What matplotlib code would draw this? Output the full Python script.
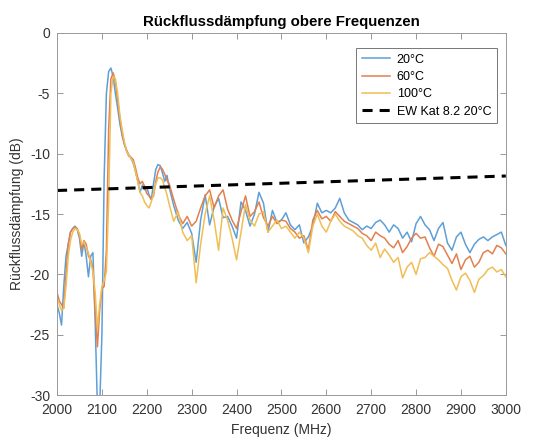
import matplotlib
matplotlib.use("Agg")
import matplotlib.pyplot as plt

plt.rcParams['font.family'] = ['Liberation Sans', 'DejaVu Sans']
plt.rcParams['axes.unicode_minus'] = False

freq = [2000, 2005, 2010, 2015, 2020, 2025, 2030, 2035, 2040, 2045,
        2050, 2055, 2060, 2065, 2070, 2075, 2080, 2085, 2090, 2095,
        2100, 2105, 2110, 2115, 2120, 2125, 2130, 2135, 2140, 2145,
        2150, 2155, 2160, 2165, 2170, 2175, 2180, 2185, 2190, 2195,
        2200, 2205, 2210, 2215, 2220, 2225, 2230, 2235, 2240, 2245,
        2250] + list(range(2260, 3001, 10))

db_20 = [-22.5, -23.2, -24.2, -21.0, -18.5, -17.5, -16.5, -16.2, -16.0, -16.3,
         -17.0, -18.5, -17.3, -18.5, -20.2, -18.5, -18.2, -24.0, -31.0, -31.0,
         -25.0, -12.0, -5.0, -3.2, -2.9, -3.6, -5.0, -6.2, -7.5, -8.5,
         -9.2, -9.7, -10.1, -10.4, -10.8, -11.5, -12.3, -13.2, -12.6, -13.0,
         -12.8, -13.4, -13.8, -12.5, -11.3, -10.9, -11.0, -11.6, -12.3, -11.8,
         -12.8,
         -14.3, -15.5, -16.2, -15.7, -16.6, -19.0, -15.5, -13.4, -15.9, -14.4,
         -13.7, -15.3, -15.2, -16.0, -17.0, -14.0, -14.7, -16.0, -15.0, -13.2,
         -14.1, -16.5, -14.7, -15.7, -15.5, -14.9, -15.9, -16.3, -15.9, -17.4,
         -16.9, -16.0, -14.1, -14.9, -14.7, -14.9, -14.5, -13.7, -14.9, -15.5,
         -15.7, -15.9, -16.3, -16.0, -16.2, -15.7, -15.5, -15.9, -16.5, -15.9,
         -16.2, -17.0, -16.5, -17.3, -15.8, -15.2, -15.9, -16.3, -17.2, -16.2,
         -15.7, -17.4, -18.0, -16.9, -16.5, -17.5, -18.2, -17.5, -17.1, -16.9,
         -17.2, -16.9, -16.7, -16.5, -17.6]

db_60 = [-21.5, -22.2, -22.5, -22.8, -20.0, -17.5, -16.5, -16.2, -16.1, -16.2,
         -16.8, -18.0, -17.2, -17.5, -18.5, -18.8, -19.5, -23.0, -26.0, -23.0,
         -21.2, -21.0, -18.0, -8.0, -3.8, -3.3, -4.0, -5.5, -7.0, -8.3,
         -9.2, -9.8, -10.2, -10.3, -10.5, -11.2, -12.0, -12.5, -12.3, -12.7,
         -13.3, -13.5, -13.8, -13.5, -12.3, -11.5, -11.1, -11.3, -11.7, -12.2,
         -12.5,
         -13.8, -15.0, -15.8, -15.2, -16.0, -15.6, -14.5, -13.5, -13.0, -14.5,
         -13.5, -13.0, -14.6, -15.5, -16.2, -14.8, -13.5, -15.2, -14.8, -14.0,
         -15.3, -16.0, -15.2, -15.8, -15.5, -15.6, -16.2, -16.5, -17.0, -16.8,
         -18.0, -15.5, -14.7, -15.4, -15.2, -15.6, -14.8, -15.2, -15.6, -15.8,
         -16.0, -16.2, -16.6, -16.8, -17.2, -16.5, -16.8, -17.0, -17.5, -17.8,
         -17.2, -18.2, -17.7, -17.0, -16.6, -17.0, -16.9, -17.8, -18.5, -17.5,
         -17.7, -18.4, -19.1, -18.3, -19.6, -18.8, -18.5, -19.4, -19.0, -18.2,
         -18.0, -18.3, -17.6, -17.8, -18.3]

db_100 = [-22.0, -22.5, -23.0, -22.8, -21.0, -18.5, -17.2, -16.5, -16.2, -16.3,
          -16.6, -17.5, -17.3, -17.8, -18.2, -19.0, -19.8, -21.5, -24.5, -22.5,
          -21.0, -20.5, -19.8, -14.0, -5.0, -3.6, -3.8, -5.0, -6.8, -8.0,
          -9.0, -9.8, -10.1, -10.4, -10.7, -11.5, -12.3, -13.2, -13.5, -14.0,
          -14.3, -14.5, -14.0, -13.3, -12.5, -12.0, -12.0, -12.2, -12.8, -13.4,
          -14.2,
          -15.6, -14.8, -16.5, -17.2, -16.8, -20.7, -17.5, -15.0, -13.5, -15.5,
          -18.0, -14.5, -15.5, -17.0, -18.8, -16.5, -14.2, -15.5, -16.0, -15.0,
          -14.8, -16.5, -16.0, -15.5, -16.2, -16.0, -16.5, -17.0, -16.5, -17.0,
          -18.2, -16.0, -15.0, -16.0, -16.5, -15.6, -15.0, -15.6, -16.0, -16.2,
          -16.4, -16.8, -17.0, -17.6, -18.0, -17.4, -18.6, -17.9, -18.4, -19.0,
          -18.6, -20.3, -19.4, -19.0, -20.0, -18.7, -18.6, -18.2, -18.5, -18.8,
          -19.2, -19.5, -20.5, -21.3, -20.2, -19.9, -20.5, -21.5, -20.4, -20.1,
          -19.6, -19.4, -19.8, -19.6, -20.2]

ew_freq = [2000, 3000]
ew_db = [-13.05, -11.85]

labels = ['20°C', '60°C', '100°C', 'EW Kat 8.2 20°C']
colors = ['#5E9FD6', '#E2804F', '#F0BE55']

fig = plt.figure(figsize=(5.33, 4.37), dpi=100)
ax = fig.add_axes([0.107, 0.096, 0.842, 0.8285])

ax.plot(freq, db_20, color=colors[0], lw=1.1, label=labels[0])
ax.plot(freq, db_60, color=colors[1], lw=1.1, label=labels[1])
ax.plot(freq, db_100, color=colors[2], lw=1.1, label=labels[2])
ax.plot(ew_freq, ew_db, color='black', lw=2.2, ls=(0, (3.3, 2.3)), label=labels[3])

ax.set_xlim(2000, 3000)
ax.set_ylim(-30, 0)
ax.set_xticks(range(2000, 3001, 100))
ax.set_yticks(range(-30, 1, 5))
ax.tick_params(direction='in', top=True, right=True, length=4, width=0.6,
               colors='#888888', labelcolor='#333333', labelsize=10)
ax.tick_params(axis='x', pad=6)
ax.tick_params(axis='y', pad=5)
for s in ax.spines.values():
    s.set_color('#999999')
    s.set_linewidth(0.7)

ax.set_title('Rückflussdämpfung obere Frequenzen', fontsize=10.8,
             fontweight='bold', pad=5)
ax.set_xlabel('Frequenz (MHz)', fontsize=10, color='#333333', labelpad=4)
ax.set_ylabel('Rückflussdämpfung (dB)', fontsize=10, color='#333333', labelpad=4)

leg = ax.legend(loc='upper right', fontsize=9, handlelength=2.3,
                fancybox=False, framealpha=1, edgecolor='#777777',
                borderpad=0.45, labelspacing=0.42, handletextpad=0.5,
                borderaxespad=0, bbox_to_anchor=(0.980, 0.958))
leg.get_frame().set_linewidth(0.7)

fig.savefig('out.png', dpi=100)
